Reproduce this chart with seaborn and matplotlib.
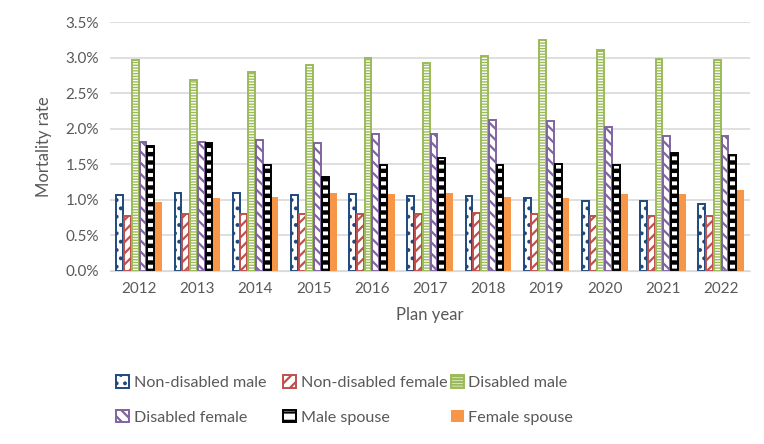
import matplotlib

matplotlib.use("Agg")
import matplotlib.pyplot as plt
import pandas as pd
import seaborn as sns
from matplotlib.patches import Patch
from matplotlib.ticker import PercentFormatter

years = [str(y) for y in range(2012, 2023)]
series = ["Non-disabled male", "Non-disabled female", "Disabled male",
          "Disabled female", "Male spouse", "Female spouse"]

non_disabled_male = [1.07, 1.09, 1.09, 1.07, 1.08, 1.05, 1.05, 1.02, 0.99, 0.98, 0.94]
non_disabled_female = [0.77, 0.80, 0.80, 0.80, 0.80, 0.80, 0.81, 0.80, 0.77, 0.77, 0.77]
disabled_male = [2.97, 2.69, 2.80, 2.90, 3.00, 2.93, 3.02, 3.25, 3.11, 2.98, 2.97]
disabled_female = [1.81, 1.81, 1.84, 1.80, 1.93, 1.93, 2.12, 2.11, 2.02, 1.90, 1.90]
male_spouse = [1.76, 1.80, 1.49, 1.32, 1.49, 1.59, 1.49, 1.50, 1.49, 1.66, 1.63]
female_spouse = [0.97, 1.03, 1.04, 1.09, 1.08, 1.09, 1.04, 1.02, 1.08, 1.08, 1.14]

values = [non_disabled_male, non_disabled_female, disabled_male,
          disabled_female, male_spouse, female_spouse]

edge_colors = ["#1F497D", "#C0504D", "#9BBB59", "#8064A2", "#000000", "#F79646"]
face_colors = ["white", "white", "white", "white", "white", "#F79646"]
hatches = ["..", "///", "------", "\\\\\\", "--", ""]
hatch_lw = [1.6, 1.6, 1.0, 1.6, 3.2, 1.0]

rows = []
for name, vals in zip(series, values):
    for yr, v in zip(years, vals):
        rows.append({"Plan year": yr, "Serie": name, "Mortality rate": v})
df = pd.DataFrame(rows)

text_col = "#595959"
plt.rcParams["font.family"] = ["Lato", "DejaVu Sans"]
plt.rcParams["hatch.linewidth"] = 1.6

fig = plt.figure(figsize=(7.64, 4.44), dpi=100)
ax = fig.add_axes([0.144, 0.39, 0.838, 0.56])

sns.barplot(data=df, x="Plan year", y="Mortality rate", hue="Serie",
            hue_order=series, order=years, width=0.8, gap=0.12,
            legend=False, ax=ax)

for i, cont in enumerate(ax.containers):
    for bar in cont:
        bar.set_facecolor(face_colors[i])
        bar.set_edgecolor(edge_colors[i])
        bar.set_hatch(hatches[i])
        bar.set_linewidth(1.4 if i < 5 else 0)
        if hasattr(bar, "set_hatch_linewidth"):
            bar.set_hatch_linewidth(hatch_lw[i])

ax.set_ylim(0, 3.5)
ax.set_yticks([0, 0.5, 1.0, 1.5, 2.0, 2.5, 3.0, 3.5])
ax.yaxis.set_major_formatter(PercentFormatter(100, decimals=1))
ax.grid(axis="y", color="#D9D9D9", linewidth=1.2)
ax.set_axisbelow(True)
for s in ["left", "right", "top"]:
    ax.spines[s].set_visible(False)
ax.spines["bottom"].set_color("#D9D9D9")
ax.tick_params(axis="both", length=0, colors=text_col, labelsize=11, pad=8)
ax.set_xlabel("Plan year", color=text_col, fontsize=12, labelpad=8)
ax.set_ylabel("Mortality rate", color=text_col, fontsize=12, labelpad=10)

# legend: three columns at fixed positions, row-major order like the original
handles = []
for i, name in enumerate(series):
    p = Patch(facecolor=face_colors[i], edgecolor=edge_colors[i],
              hatch=hatches[i], linewidth=1.4 if i < 5 else 0, label=name)
    handles.append(p)

col_x = [0.152, 0.371, 0.590]
for c in range(3):
    leg = fig.legend(handles=[handles[c], handles[c + 3]], loc="upper left",
                     bbox_to_anchor=(col_x[c], 0.155), ncol=1, frameon=False,
                     fontsize=11.6, labelcolor=text_col, borderaxespad=0,
                     borderpad=0, handlelength=0.8, handleheight=0.8,
                     handletextpad=0.3, labelspacing=1.25)

fig.savefig("out.png", dpi=100)
